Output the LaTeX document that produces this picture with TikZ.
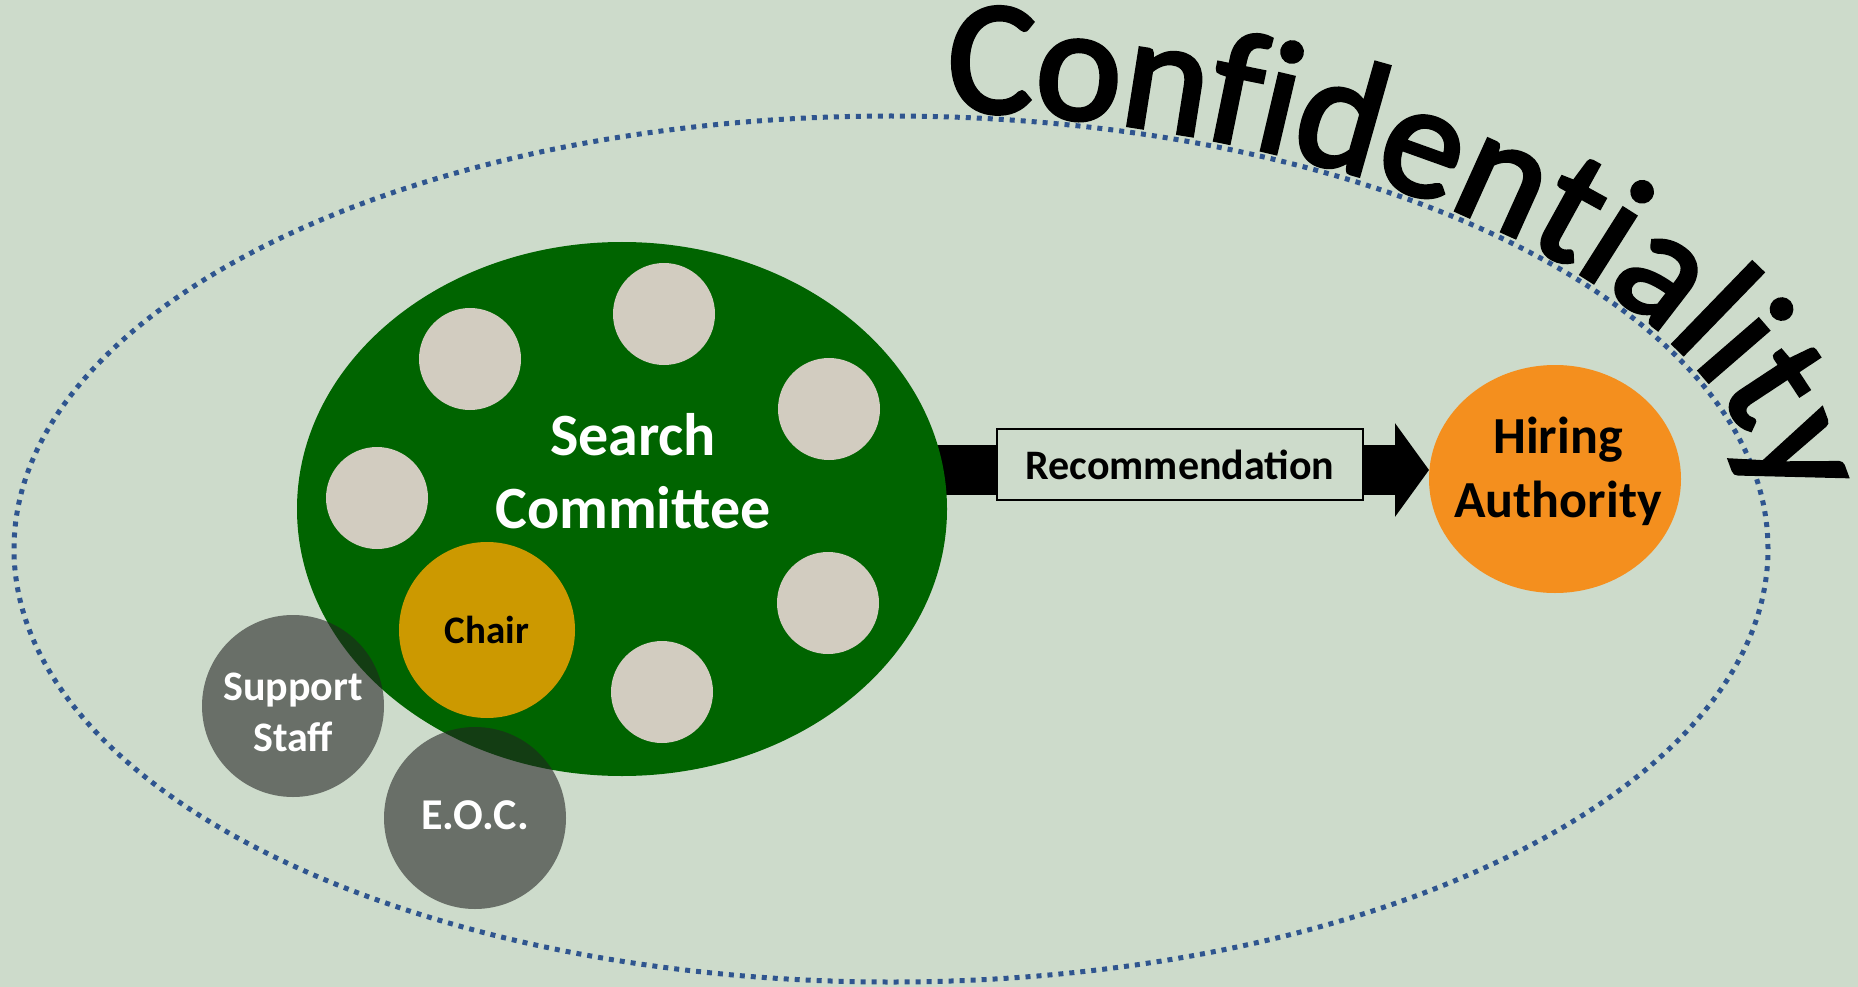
\documentclass[tikz,border=0pt]{standalone}
\usepackage{fontspec}
\setmainfont{Carlito}
\newfontfamily\titlefamily{Carlito}[FakeBold=2.5]
\usetikzlibrary{shapes.geometric,arrows.meta,decorations.text}

\definecolor{paper}{RGB}{205,219,203}
\definecolor{boundaryblue}{RGB}{47,85,143}
\definecolor{committeegreen}{RGB}{0,100,0}
\definecolor{seat}{RGB}{210,204,192}
\definecolor{chairgold}{RGB}{204,153,0}
\definecolor{authorityorange}{RGB}{244,143,30}
\definecolor{shade}{RGB}{33,33,33}

\newcommand{\titlefont}{\titlefamily\fontsize{163}{165}\selectfont}

\pgfdeclarelayer{back}
\pgfsetlayers{back,main}

\begin{document}
\begin{tikzpicture}[x=1pt,y=1pt,
  boundary/.style={draw=boundaryblue,line width=5pt,dash pattern=on 5pt off 6pt},
  committee/.style={ellipse,fill=committeegreen,minimum width=650pt,minimum height=534pt,inner sep=0pt},
  member/.style={circle,fill=seat,minimum size=102pt,inner sep=0pt},
  chairseat/.style={circle,fill=chairgold,minimum size=176pt,inner sep=0pt,
    font=\bfseries\fontsize{39}{48}\selectfont},
  sidecircle/.style={circle,fill=shade,fill opacity=0.58,minimum size=182pt,inner sep=0pt},
  sidelabel/.style={text=white,align=center,inner sep=0pt},
  authority/.style={ellipse,fill=authorityorange,minimum width=252pt,minimum height=228pt,
    inner sep=0pt,outer sep=0pt},
  recbox/.style={draw=black,line width=2pt,fill=paper,minimum width=366pt,minimum height=71pt,
    inner sep=0pt,font=\bfseries\fontsize{42}{51}\selectfont},
  flowarrow/.style={line width=50pt,-{Triangle[length=34pt,width=92pt]}}]

\begin{pgfonlayer}{back}
  \fill[paper] (0,0) rectangle (1858,-987);
  % confidentiality boundary
  \draw[boundary] (891,-549) ellipse [x radius=877, y radius=433];
\end{pgfonlayer}
\useasboundingbox (0,0) rectangle (1858,-987);

% title set along the boundary
\path[decorate,decoration={text along path,text align=left,
    text={|\titlefont|Confidentiality}}]
  (944.9,-110.4) arc[start angle=86.5,end angle=-30,x radius=885,y radius=440];

% search committee and its members
\node[committee] (sc) at (622,-509) {};
\node[member] (m1) at (470,-359) {};
\node[member] (m2) at (664,-314) {};
\node[member] (m3) at (829,-409) {};
\node[member] (m4) at (377,-498) {};
\node[member] (m5) at (828,-603) {};
\node[member] (m6) at (662,-692) {};
\node[chairseat] (chair) at (487,-630) {Chair};
\node[text=white,align=center,inner sep=0pt,font=\bfseries\fontsize{60}{73}\selectfont]
  (sclabel) at (633,-471) {Search\\Committee};

% supporting parties
\node[sidecircle] (staff) at (293,-706) {};
\node[sidelabel,font=\bfseries\fontsize{42}{51}\selectfont] (stafflabel) at (293,-712) {Support\\Staff};
\node[sidecircle] (eoc) at (475,-818) {};
\node[sidelabel,font=\bfseries\fontsize{44}{53}\selectfont] (eoclabel) at (475,-815) {E.O.C.};

% hiring authority
\node[authority] (ha) at (1555,-479) {};
\node[align=center,inner sep=0pt,font=\bfseries\fontsize{52}{64}\selectfont]
  (halabel) at (1558,-471) {Hiring\\Authority};

% recommendation flow
\coordinate (flow) at (0,-470);
\begin{pgfonlayer}{back}
  \draw[flowarrow] (sc.center |- flow) -- (ha.west |- flow);
\end{pgfonlayer}
\node[recbox] (rec) at (1180,-464.5) {Recommendation};

\end{tikzpicture}
\end{document}
